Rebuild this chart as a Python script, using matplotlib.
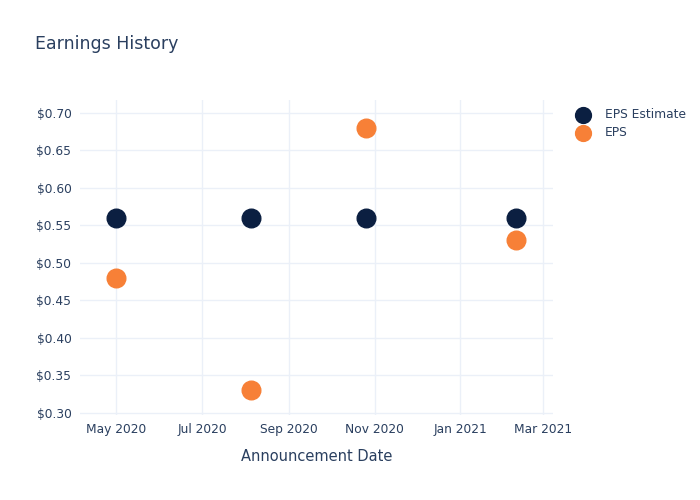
import matplotlib
matplotlib.use('Agg')
import matplotlib.pyplot as plt
import matplotlib.dates as mdates
from matplotlib.ticker import FuncFormatter
import pandas as pd

# earnings data
dates = pd.to_datetime(['2020-05-01', '2020-08-05', '2020-10-26', '2021-02-10'])
eps_estimate = [0.56, 0.56, 0.56, 0.56]
eps_actual = [0.48, 0.33, 0.68, 0.53]

text_color = '#2a3f5f'
grid_color = '#ebf0f8'

fig = plt.figure(figsize=(7, 5), dpi=100)
ax = fig.add_axes([0.114, 0.17, 0.676, 0.63])

ax.scatter(dates, eps_estimate, s=180, color='#0b1f41', label='EPS Estimate', zorder=3)
ax.scatter(dates, eps_actual, s=180, color='#f78037', label='EPS', zorder=3)

ax.set_xlim(pd.Timestamp('2020-04-05'), pd.Timestamp('2021-03-08'))
ax.set_ylim(0.2973, 0.7173)
ax.set_yticks([0.30, 0.35, 0.40, 0.45, 0.50, 0.55, 0.60, 0.65, 0.70])
ax.yaxis.set_major_formatter(FuncFormatter(lambda v, p: '${:.2f}'.format(v)))
ax.xaxis.set_major_locator(mdates.MonthLocator(bymonth=[1, 3, 5, 7, 9, 11]))
ax.xaxis.set_major_formatter(mdates.DateFormatter('%b %Y'))

ax.grid(True, color=grid_color, linewidth=1)
ax.set_axisbelow(True)
for s in ax.spines.values():
    s.set_visible(False)
ax.tick_params(length=0, colors=text_color, labelsize=8.8, pad=6)

ax.set_xlabel('Announcement Date', color=text_color, fontsize=10.5, labelpad=9)
fig.text(0.05, 0.912, 'Earnings History', color=text_color, fontsize=12.5, va='center')

leg = ax.legend(loc='upper left', bbox_to_anchor=(1.015, 1.01), frameon=False,
                fontsize=8.8, labelcolor=text_color, handletextpad=0.75,
                labelspacing=0.4, markerscale=0.85)

fig.savefig('out.png', dpi=100)
